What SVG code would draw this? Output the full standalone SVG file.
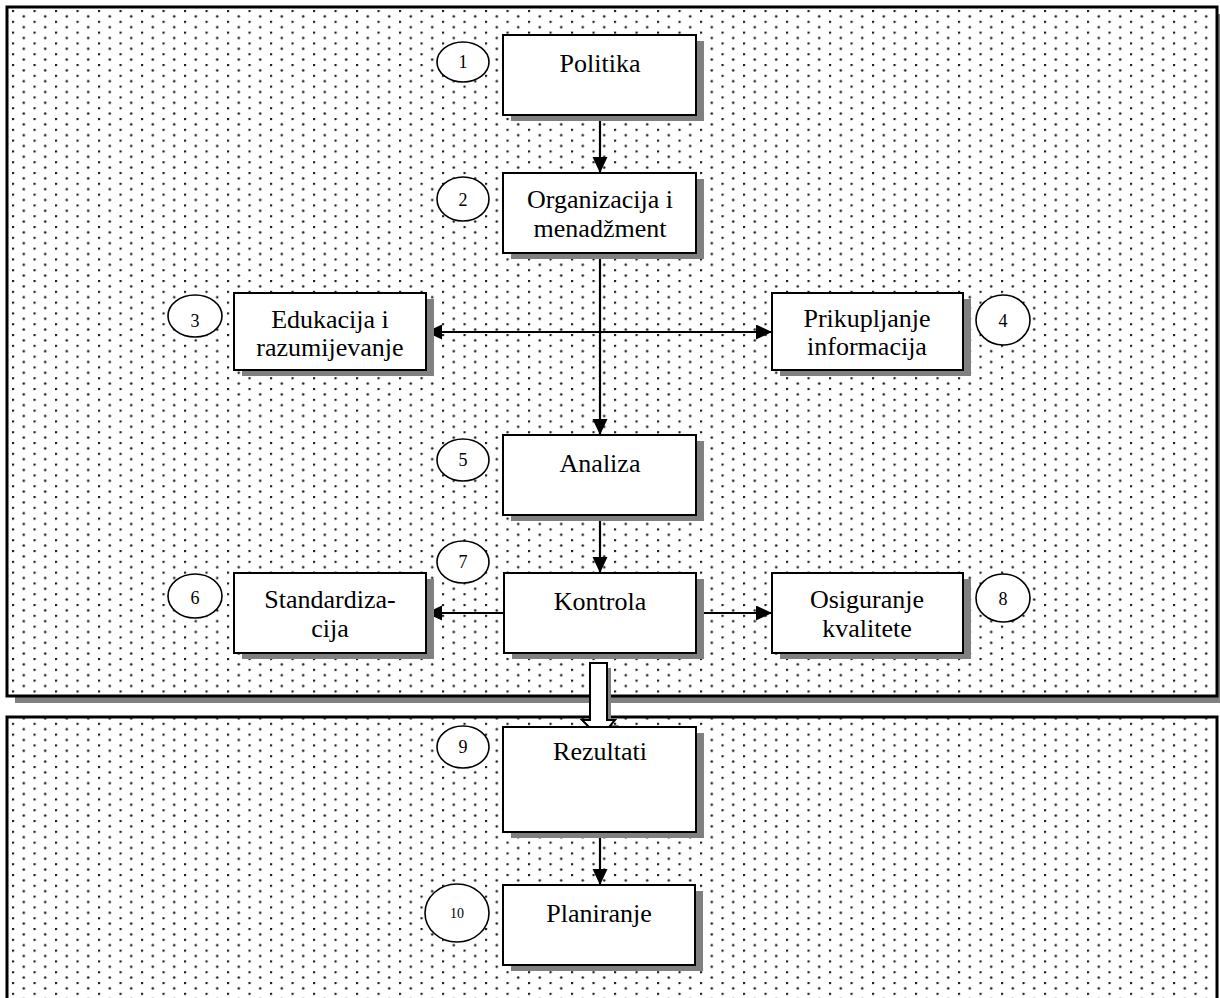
<svg xmlns="http://www.w3.org/2000/svg" width="1220" height="998" viewBox="0 0 1220 998">
<defs>
<pattern id="dots" patternUnits="userSpaceOnUse" x="12" y="10" width="21.5" height="10.8">
<circle cx="1" cy="1" r="1.3" fill="#1e1e1e"/>
<circle cx="11.75" cy="6.4" r="1.3" fill="#1e1e1e"/>
</pattern>
<marker id="ah" markerUnits="userSpaceOnUse" markerWidth="18" markerHeight="16" refX="16" refY="7.5" orient="auto">
<path d="M0,0 L16,7.5 L0,15 z" fill="#000"/>
</marker>
<style>
.panel{fill:url(#dots);stroke:#000;stroke-width:3}
.pshadow{fill:#808080}
.box{fill:#fff;stroke:#000;stroke-width:2}
.sh{fill:#808080}
.num{fill:#fff;stroke:#000;stroke-width:1.6}
.t{font-family:"Liberation Serif","Times New Roman",serif;font-size:26px;text-anchor:middle;fill:#000}
.n{font-family:"Liberation Serif","Times New Roman",serif;font-size:18px;text-anchor:middle;fill:#000}
.c{stroke:#000;stroke-width:2.2;fill:none}
</style>
</defs>
<rect width="1220" height="998" fill="#fff"/>
<g id="panel-top">
<rect class="pshadow" x="15" y="14" width="1210" height="689"/>
<rect x="7" y="7" width="1210" height="689" fill="#fff"/>
<rect class="panel" x="7" y="7" width="1210" height="689"/>
</g>
<g id="panel-bottom">
<rect x="7" y="717" width="1210" height="300" fill="#fff"/>
<rect class="panel" x="7" y="717" width="1210" height="300"/>
</g>
<g id="connectors">
<line class="c" x1="600" y1="115" x2="600" y2="173" marker-end="url(#ah)"/>
<line class="c" x1="600" y1="253" x2="600" y2="435" marker-end="url(#ah)"/>
<line class="c" x1="600" y1="332" x2="426" y2="332" marker-end="url(#ah)"/>
<line class="c" x1="600" y1="332" x2="772" y2="332" marker-end="url(#ah)"/>
<line class="c" x1="600" y1="515" x2="600" y2="573" marker-end="url(#ah)"/>
<line class="c" x1="504" y1="613" x2="426" y2="613" marker-end="url(#ah)"/>
<line class="c" x1="696" y1="613" x2="772" y2="613" marker-end="url(#ah)"/>
<line class="c" x1="600" y1="832" x2="600" y2="885" marker-end="url(#ah)"/>
<g id="big-arrow">
<polygon points="594,668 611,668 611,725 619,725 604,743 586,725 594,725" fill="#808080"/>
<polygon points="590,663 607,663 607,720 615,720 600,738 582,720 590,720" fill="#fff" stroke="#000" stroke-width="2"/>
</g>
</g>
<g id="n1">
<rect class="sh" x="511" y="41" width="193" height="80"/>
<rect class="box" x="503" y="35" width="193" height="80"/>
<text class="t" x="600" y="72">Politika</text>
</g>
<g id="n2">
<rect class="sh" x="511" y="179" width="193" height="80"/>
<rect class="box" x="503" y="173" width="193" height="80"/>
<text class="t" x="600" y="208">Organizacija i</text>
<text class="t" x="600" y="237">menadžment</text>
</g>
<g id="n3">
<rect class="sh" x="242" y="299" width="192" height="77"/>
<rect class="box" x="234" y="293" width="192" height="77"/>
<text class="t" x="330" y="328">Edukacija i</text>
<text class="t" x="330" y="356">razumijevanje</text>
</g>
<g id="n4">
<rect class="sh" x="780" y="299" width="191" height="77"/>
<rect class="box" x="772" y="293" width="191" height="77"/>
<text class="t" x="867" y="327">Prikupljanje</text>
<text class="t" x="867" y="355">informacija</text>
</g>
<g id="n5">
<rect class="sh" x="511" y="441" width="193" height="80"/>
<rect class="box" x="503" y="435" width="193" height="80"/>
<text class="t" x="600" y="472">Analiza</text>
</g>
<g id="n6">
<rect class="sh" x="242" y="579" width="192" height="80"/>
<rect class="box" x="234" y="573" width="192" height="80"/>
<text class="t" x="330" y="608">Standardiza-</text>
<text class="t" x="330" y="637">cija</text>
</g>
<g id="n7">
<rect class="sh" x="512" y="579" width="192" height="80"/>
<rect class="box" x="504" y="573" width="192" height="80"/>
<text class="t" x="600" y="610">Kontrola</text>
</g>
<g id="n8">
<rect class="sh" x="780" y="579" width="191" height="80"/>
<rect class="box" x="772" y="573" width="191" height="80"/>
<text class="t" x="867" y="608">Osiguranje</text>
<text class="t" x="867" y="637">kvalitete</text>
</g>
<g id="n9">
<rect class="sh" x="511" y="733" width="193" height="105"/>
<rect class="box" x="503" y="727" width="193" height="105"/>
<text class="t" x="600" y="760">Rezultati</text>
</g>
<g id="n10">
<rect class="sh" x="511" y="891" width="192" height="80"/>
<rect class="box" x="503" y="885" width="192" height="80"/>
<text class="t" x="599" y="922">Planiranje</text>
</g>
<g id="c1"><ellipse class="num" cx="463" cy="62" rx="26" ry="20"/><text class="n" x="463" y="68">1</text></g>
<g id="c2"><ellipse class="num" cx="463" cy="199" rx="26" ry="22"/><text class="n" x="463" y="206">2</text></g>
<g id="c3"><ellipse class="num" cx="195" cy="316" rx="27" ry="21"/><text class="n" x="195" y="327">3</text></g>
<g id="c4"><ellipse class="num" cx="1003" cy="320" rx="27" ry="25"/><text class="n" x="1003" y="327">4</text></g>
<g id="c5"><ellipse class="num" cx="463" cy="460" rx="26" ry="21"/><text class="n" x="463" y="466">5</text></g>
<g id="c6"><ellipse class="num" cx="195" cy="596" rx="27" ry="22"/><text class="n" x="195" y="604">6</text></g>
<g id="c7"><ellipse class="num" cx="463" cy="562" rx="26" ry="21"/><text class="n" x="463" y="568">7</text></g>
<g id="c8"><ellipse class="num" cx="1003" cy="598" rx="27" ry="24"/><text class="n" x="1003" y="605">8</text></g>
<g id="c9"><ellipse class="num" cx="463" cy="747" rx="26" ry="21"/><text class="n" x="463" y="753">9</text></g>
<g id="c10"><ellipse class="num" cx="457" cy="913" rx="32" ry="29"/><text class="n" x="457" y="918" style="font-size:14px">10</text></g>
</svg>
